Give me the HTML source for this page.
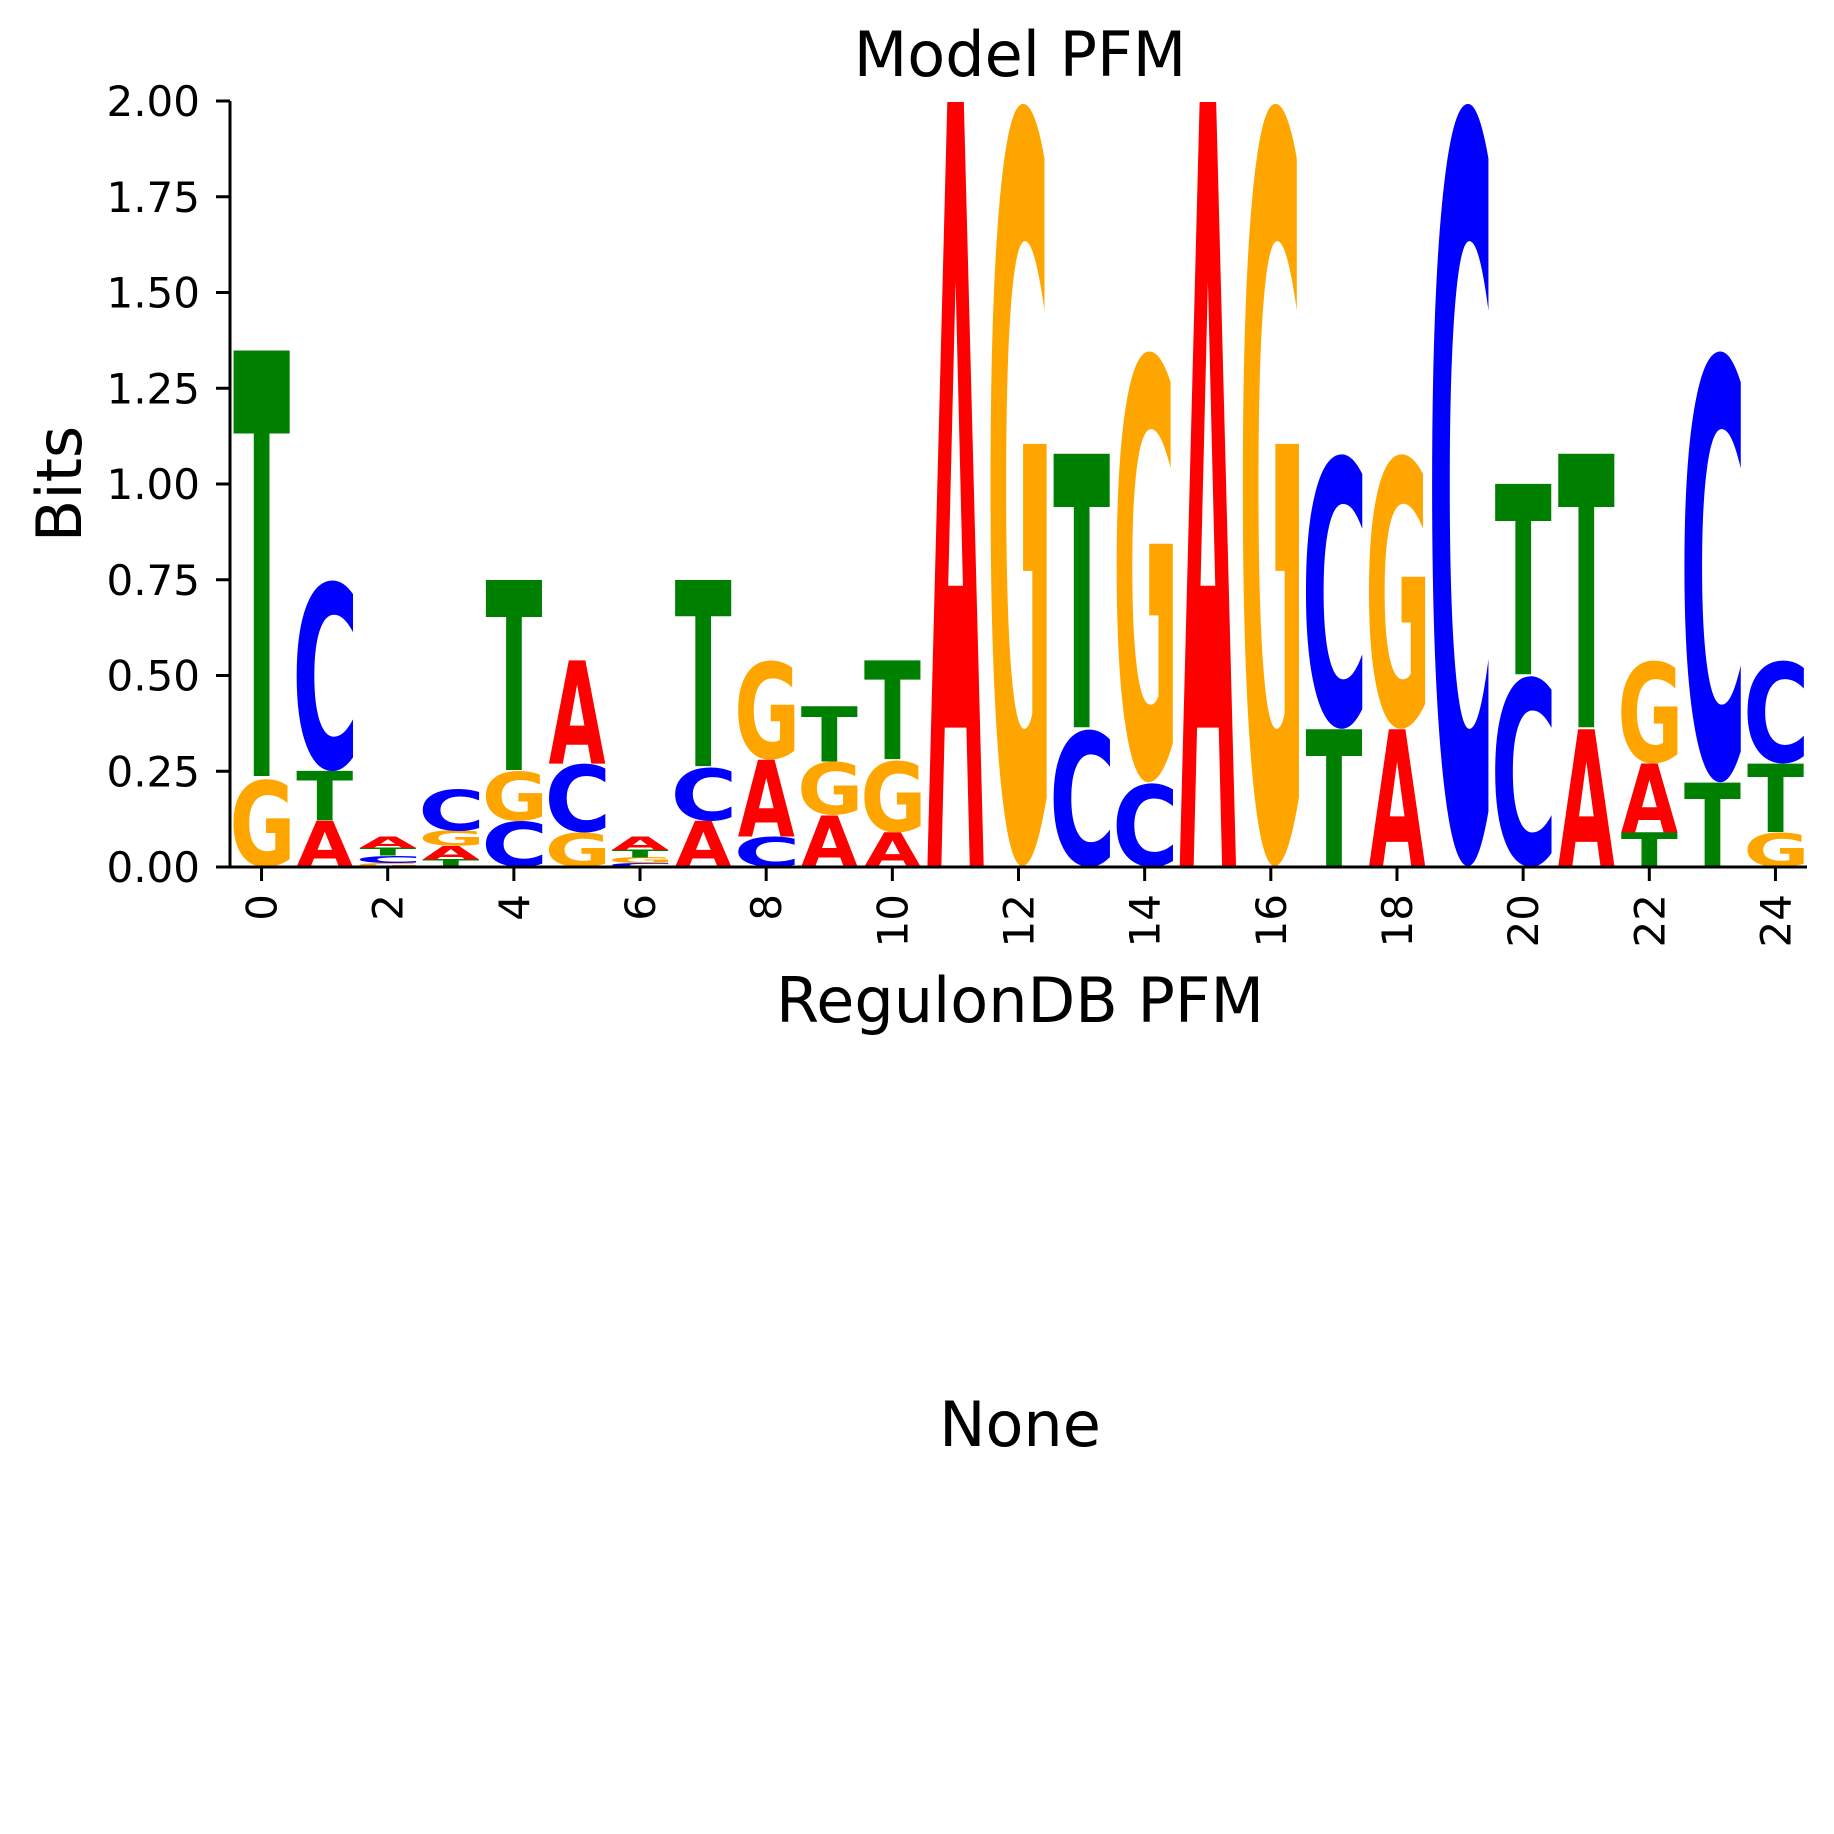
<!DOCTYPE html>
<html><head><meta charset="utf-8">
<style>
html,body{margin:0;padding:0;background:#fff;}
svg{display:block;font-family:"DejaVu Sans","Liberation Sans",sans-serif;}
</style></head>
<body>
<svg id="chart" width="1834" height="1834" viewBox="0 0 1834 1834" xmlns="http://www.w3.org/2000/svg">
  <rect x="0" y="0" width="1834" height="1834" fill="#fff"/>
  <text x="1020" y="76" font-size="62" text-anchor="middle">Model PFM</text>
  <g id="marks"></g>
  <g id="axes"></g>
  <text x="1020" y="1022" font-size="62" text-anchor="middle">RegulonDB PFM</text>
  <text transform="translate(81,484) rotate(-90)" font-size="62" text-anchor="middle">Bits</text>
  <text x="1020" y="1446" font-size="62" text-anchor="middle">None</text>
</svg>
<script>
const positions = [0,1,2,3,4,5,6,7,8,9,10,11,12,13,14,15,16,17,18,19,20,21,22,23,24];
const bitsA = [0,0.12,0.03,0.035,0,0.27,0.035,0.12,0.20,0.135,0.09,2,0,0,0,2,0,0,0.36,0,0,0.36,0.18,0,0];
const bitsC = [0,0.50,0.02,0.11,0.12,0.18,0.01,0.14,0.08,0,0,0,0,0.36,0.22,0,0,0.72,0,2,0.50,0,0,1.13,0.27];
const bitsG = [0.23,0,0.01,0.04,0.13,0.09,0.015,0,0.26,0.14,0.19,0,2,0,1.13,0,2,0,0.72,0,0,0,0.27,0,0.09];
const bitsT = [1.12,0.13,0.02,0.02,0.50,0,0.02,0.49,0,0.145,0.26,0,0,0.72,0,0,0,0.36,0,0,0.501,0.72,0.09,0.22,0.18];
const yTicks = [0,0.25,0.5,0.75,1.0,1.25,1.5,1.75,2.0];
const yTickLabels = ["0.00","0.25","0.50","0.75","1.00","1.25","1.50","1.75","2.00"];
const xTicks = [0,2,4,6,8,10,12,14,16,18,20,22,24];

const NS = "http://www.w3.org/2000/svg";
const X0 = 230, X1 = 1807, Y0 = 867, Y1 = 101;
const xMin = -0.5, xMax = 24.5, yMin = 0, yMax = 2;
function xs(v){ return X0 + (v - xMin) / (xMax - xMin) * (X1 - X0); }
function ys(v){ return Y0 - (v - yMin) / (yMax - yMin) * (Y0 - Y1); }
const colors = {A:"#ff0000", C:"#0000ff", G:"#ffa500", T:"#008000"};
const FS = 200;
const cv = document.createElement("canvas");
const ctx = cv.getContext("2d");
ctx.font = "bold " + FS + "px 'DejaVu Sans'";
const metrics = {};
["A","C","G","T"].forEach(function(L){
  const m = ctx.measureText(L);
  metrics[L] = {l:m.actualBoundingBoxLeft, r:m.actualBoundingBoxRight, a:m.actualBoundingBoxAscent, d:m.actualBoundingBoxDescent};
});
const marks = document.getElementById("marks");
const colW = (X1 - X0) / (xMax - xMin);
positions.forEach(function(p, i){
  const items = [["A",bitsA[i]],["C",bitsC[i]],["G",bitsG[i]],["T",bitsT[i]]].filter(function(d){return d[1] > 0;});
  items.sort(function(a,b){return a[1]-b[1];});
  let base = 0;
  items.forEach(function(d){
    const L = d[0], h = d[1];
    const m = metrics[L];
    const w = m.l + m.r, hh = m.a + m.d;
    const left = xs(p) - colW * 0.45, W = colW * 0.9;
    const top = ys(base + h), H = ys(base) - ys(base + h);
    const t = document.createElementNS(NS, "text");
    
    
    t.setAttribute("font-size", FS);
    t.setAttribute("font-weight", "bold");
    t.setAttribute("font-family", "DejaVu Sans");
    t.setAttribute("fill", colors[L]);
    t.setAttribute("transform", "translate(" + left + "," + top + ") scale(" + (W / w) + "," + (H / hh) + ") translate(" + m.l + "," + m.a + ")");
    t.textContent = L;
    marks.appendChild(t);
    base += h;
  });
});
const axes = document.getElementById("axes");
function line(x1,y1,x2,y2,name){
  const l = document.createElementNS(NS, "line");
  
  
  l.setAttribute("x1",x1); l.setAttribute("y1",y1); l.setAttribute("x2",x2); l.setAttribute("y2",y2);
  l.setAttribute("stroke","#000"); l.setAttribute("stroke-width","3");
  axes.appendChild(l);
}
line(X0, Y1, X0, Y0 + 1.5, "y-axis-line");
line(X0 - 1.5, Y0, X1, Y0, "x-axis-line");
yTicks.forEach(function(v, i){
  line(X0 - 14, ys(v), X0, ys(v), "y-tick");
  const t = document.createElementNS(NS, "text");
  
  
  t.setAttribute("x", X0 - 30); t.setAttribute("y", ys(v) + 15);
  t.setAttribute("font-size", "42"); t.setAttribute("text-anchor", "end");
  t.textContent = yTickLabels[i];
  axes.appendChild(t);
});
xTicks.forEach(function(v){
  line(xs(v), Y0, xs(v), Y0 + 14, "x-tick");
  const t = document.createElementNS(NS, "text");
  
  
  t.setAttribute("font-size", "42"); t.setAttribute("text-anchor", "end");
  t.setAttribute("transform", "translate(" + (xs(v) + 15) + "," + (Y0 + 27) + ") rotate(-90)");
  t.textContent = String(v);
  axes.appendChild(t);
});
</script>
</body></html>
